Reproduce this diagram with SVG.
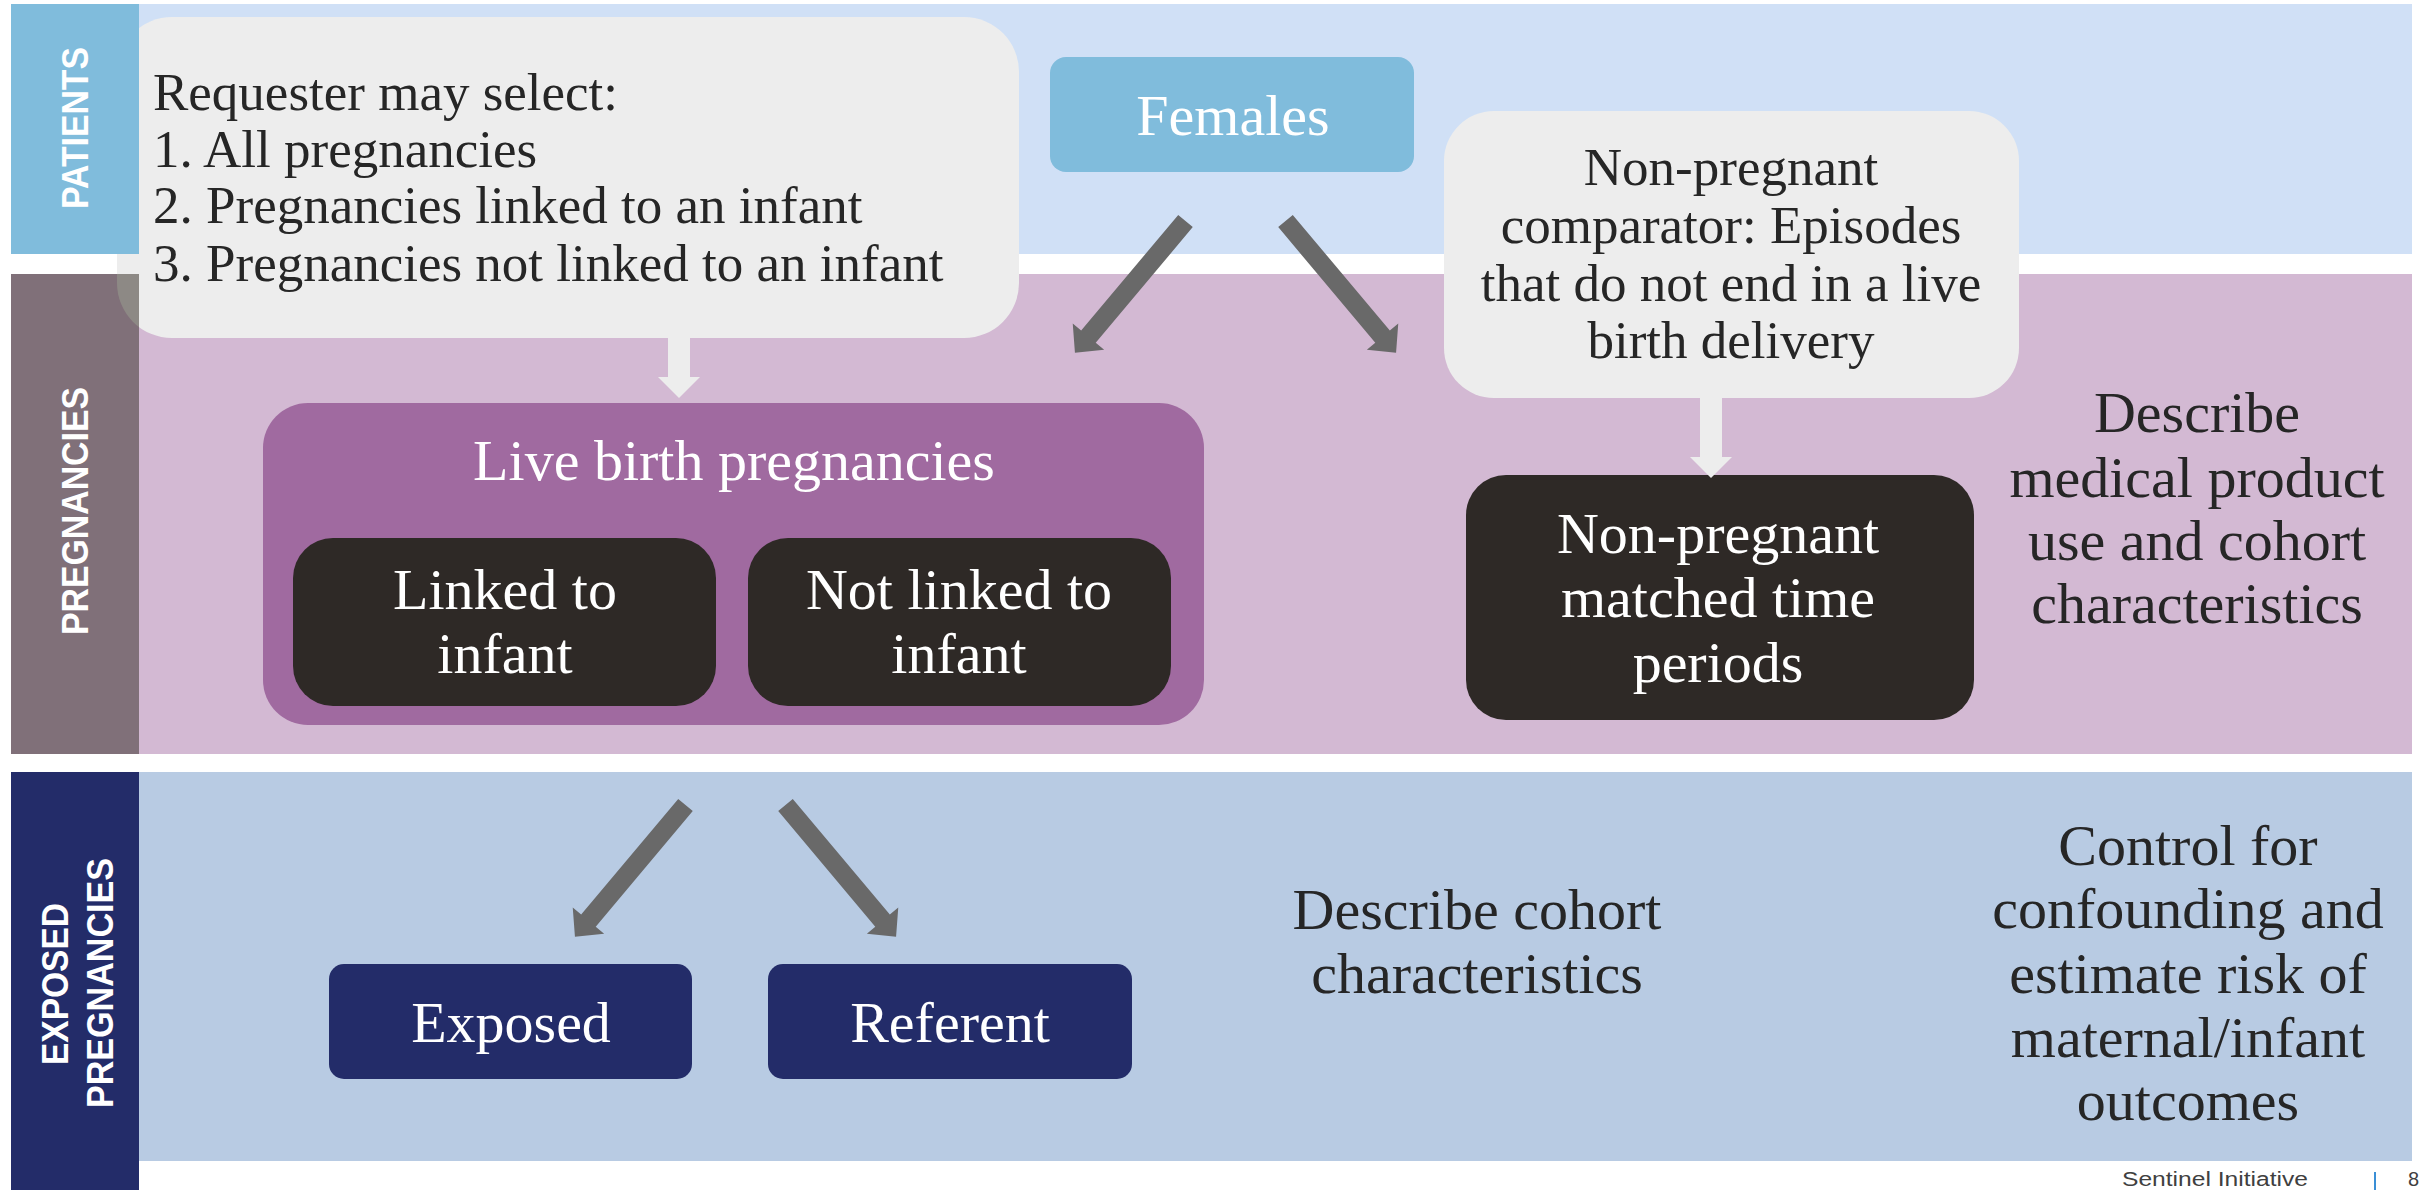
<svg xmlns="http://www.w3.org/2000/svg" xmlns:xlink="http://www.w3.org/1999/xlink" width="2430" height="1190" viewBox="0 0 2430 1190">
<style>
.serif{font-family:"Liberation Serif","DejaVu Serif",serif;}
.t58{font-size:58px;}
.t53{font-size:53px;}
.dark{fill:#262626;}
.white{fill:#ffffff;}
.mid{text-anchor:middle;}
.band{font-family:"Liberation Sans","DejaVu Sans",sans-serif;font-weight:bold;font-size:36px;fill:#ffffff;text-anchor:middle;dominant-baseline:central;}
.garrow{fill:#696969;}
.warrow{fill:#ededed;}
</style>
<defs>
<path id="ga" d="M-9.5,0 L9.5,0 L9.5,151 L20.5,151 L0,172 L-20.5,151 L-9.5,151 Z"/>
<clipPath id="pregband"><rect x="11" y="274" width="128" height="480"/></clipPath>
</defs>
<rect x="0" y="0" width="2430" height="1190" fill="#ffffff"/>
<g id="lanes">
<rect x="139" y="4" width="2273" height="250" fill="#d0e0f6"/>
<rect x="139" y="274" width="2273" height="480" fill="#d3b9d3"/>
<rect x="139" y="772" width="2273" height="389" fill="#b8cbe3"/>
</g>
<g id="requester">
<rect x="117" y="17" width="902" height="321" rx="55" fill="#ededed"/>
</g>
<g id="lane-labels">
<rect x="11" y="4" width="128" height="250" fill="#80bcdc"/>
<rect x="11" y="274" width="128" height="480" fill="#807079"/>
<rect x="117" y="17" width="902" height="321" rx="55" fill="#8d8985" clip-path="url(#pregband)"/>
<rect x="11" y="772" width="128" height="418" fill="#232c69"/>
<text class="band" transform="translate(75,128) rotate(-90)" textLength="162" lengthAdjust="spacingAndGlyphs">PATIENTS</text>
<text class="band" transform="translate(75,511) rotate(-90)" textLength="248" lengthAdjust="spacingAndGlyphs">PREGNANCIES</text>
<text class="band" transform="translate(55,984) rotate(-90)" textLength="162" lengthAdjust="spacingAndGlyphs">EXPOSED</text>
<text class="band" transform="translate(100,983) rotate(-90)" textLength="250" lengthAdjust="spacingAndGlyphs">PREGNANCIES</text>
</g>
<g id="requester-text" class="serif t53 dark">
<text x="153" y="110">Requester may select:</text>
<text x="153" y="167">1. All pregnancies</text>
<text x="153" y="223">2. Pregnancies linked to an infant</text>
<text x="153" y="281">3. Pregnancies not linked to an infant</text>
</g>
<g id="females">
<rect x="1050" y="57" width="364" height="115" rx="16" fill="#80bcdc"/>
<text class="serif t58 white mid" x="1233" y="135">Females</text>
</g>
<g id="comparator">
<rect x="1444" y="111" width="575" height="287" rx="50" fill="#ededed"/>
<g class="serif t53 dark mid">
<text x="1731" y="185">Non-pregnant</text>
<text x="1731" y="243">comparator: Episodes</text>
<text x="1731" y="301">that do not end in a live</text>
<text x="1731" y="358">birth delivery</text>
</g>
</g>
<g id="livebirth">
<rect x="263" y="403" width="941" height="322" rx="45" fill="#a06aa0"/>
<text class="serif t58 white mid" x="734" y="480">Live birth pregnancies</text>
</g>
<g id="linked">
<rect x="293" y="538" width="423" height="168" rx="40" fill="#2e2926"/>
<text class="serif t58 white mid" x="505" y="609">Linked to</text>
<text class="serif t58 white mid" x="505" y="673">infant</text>
</g>
<g id="notlinked">
<rect x="748" y="538" width="423" height="168" rx="40" fill="#2e2926"/>
<text class="serif t58 white mid" x="959" y="609">Not linked to</text>
<text class="serif t58 white mid" x="959" y="673">infant</text>
</g>
<g id="matched">
<rect x="1466" y="475" width="508" height="245" rx="40" fill="#2e2926"/>
<text class="serif t58 white mid" x="1718" y="553">Non-pregnant</text>
<text class="serif t58 white mid" x="1718" y="617">matched time</text>
<text class="serif t58 white mid" x="1718" y="682">periods</text>
</g>
<g id="describe-use" class="serif t58 dark mid">
<text x="2197" y="432">Describe</text>
<text x="2197" y="497">medical product</text>
<text x="2197" y="560">use and cohort</text>
<text x="2197" y="623">characteristics</text>
</g>
<g id="exposed">
<rect x="329" y="964" width="363" height="115" rx="15" fill="#232c69"/>
<text class="serif t58 white mid" x="511" y="1042">Exposed</text>
</g>
<g id="referent">
<rect x="768" y="964" width="364" height="115" rx="15" fill="#232c69"/>
<text class="serif t58 white mid" x="950" y="1042">Referent</text>
</g>
<g id="describe-cohort" class="serif t58 dark mid">
<text x="1477" y="929">Describe cohort</text>
<text x="1477" y="993">characteristics</text>
</g>
<g id="control" class="serif t58 dark mid">
<text x="2188" y="865">Control for</text>
<text x="2188" y="928">confounding and</text>
<text x="2188" y="993">estimate risk of</text>
<text x="2188" y="1057">maternal/infant</text>
<text x="2188" y="1120">outcomes</text>
</g>
<g id="connectors">
<path class="warrow" d="M668,338 L690,338 L690,377 L700,377 L679,398 L658,377 L668,377 Z"/>
<path class="warrow" d="M1700,398 L1722,398 L1722,457 L1732,457 L1711,478 L1690,457 L1700,457 Z"/>
<use xlink:href="#ga" class="garrow" transform="translate(1185.5,221) rotate(40)"/>
<use xlink:href="#ga" class="garrow" transform="translate(1285.5,221) rotate(-40)"/>
<use xlink:href="#ga" class="garrow" transform="translate(685.5,805) rotate(40)"/>
<use xlink:href="#ga" class="garrow" transform="translate(785.5,805) rotate(-40)"/>
</g>
<g id="footer">
<text x="2122" y="1186" font-family="Liberation Sans, sans-serif" font-size="20" fill="#404040" textLength="186" lengthAdjust="spacingAndGlyphs">Sentinel Initiative</text>
<rect x="2374" y="1172" width="2" height="18" fill="#3a8fd6"/>
<text x="2408" y="1186" font-family="Liberation Sans, sans-serif" font-size="20" fill="#404040">8</text>
</g>
</svg>
